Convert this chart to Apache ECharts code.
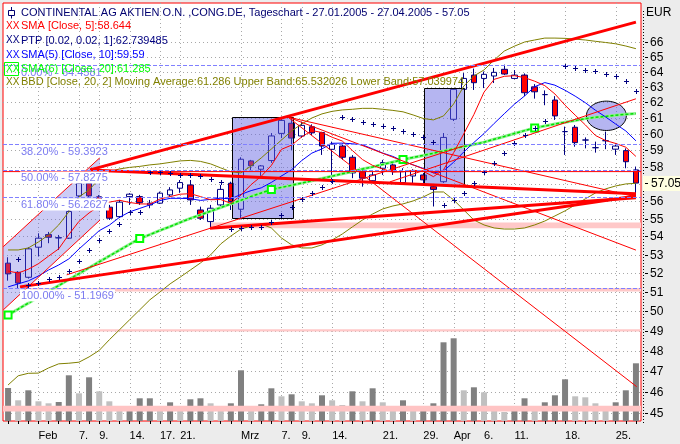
<!DOCTYPE html>
<html><head><meta charset="utf-8">
<script src="https://cdn.jsdelivr.net/npm/echarts@6.0.0/dist/echarts.min.js"></script>
<style>html,body{margin:0;padding:0;background:#ECECEC}#c{width:680px;height:444px}</style>
</head><body><div id="c"></div>
<script>
// ---------- data ----------
const dates = ['27.01.','28.01.','31.01.','01.02.','02.02.','03.02.','04.02.','07.02.','08.02.','09.02.','10.02.','11.02.','14.02.','15.02.','16.02.','17.02.','18.02.','21.02.','22.02.','23.02.','24.02.','25.02.','28.02.','01.03.','02.03.','03.03.','04.03.','07.03.','08.03.','09.03.','10.03.','11.03.','14.03.','15.03.','16.03.','17.03.','18.03.','21.03.','22.03.','23.03.','24.03.','29.03.','30.03.','31.03.','01.04.','04.04.','05.04.','06.04.','07.04.','08.04.','11.04.','12.04.','13.04.','14.04.','15.04.','18.04.','19.04.','20.04.','21.04.','22.04.','25.04.','26.04.','27.04.'];
const tickIdx  = [3,7,9,12,15,17,23,27,29,32,37,41,44,47,50,55,60];
const tickText = ['Feb','7.','9.','14.','17.','21.','Mrz','7.','9.','14.','21.','29.','Apr','6.','11.','18.','25.'];

const openP  = [52.53,52.04,51.77,53.40,54.10,53.91,53.90,56.30,57.04,56.25,55.65,55.11,56.26,56.26,55.78,55.88,56.36,56.75,56.94,55.49,54.83,55.78,57.04,55.53,58.37,57.87,58.39,60.05,60.68,59.89,60.46,60.10,59.07,59.27,58.59,57.73,57.19,57.93,58.13,57.08,57.47,57.53,56.84,57.13,60.93,62.84,63.77,63.55,63.71,64.15,63.55,63.77,63.00,62.50,62.15,60.16,60.43,59.64,59.17,59.60,59.08,58.99,57.83];
const closeP = [51.95,51.46,53.31,53.90,53.95,53.93,55.40,57.04,56.30,55.95,55.02,55.94,56.40,55.91,55.88,56.46,56.65,57.08,56.07,55.02,55.59,56.68,55.97,58.47,58.08,58.07,59.89,60.86,59.76,60.55,60.08,59.27,59.39,58.59,57.65,57.34,57.53,58.27,57.73,57.73,57.77,57.24,56.68,59.80,62.84,63.55,63.27,63.82,63.95,63.84,63.77,62.62,62.68,62.50,61.14,60.16,59.48,59.64,59.17,59.60,59.27,58.32,57.05];
const lowP   = [51.59,51.20,51.70,52.89,53.62,53.25,53.86,56.24,56.24,55.85,54.92,55.03,55.78,55.78,55.59,55.84,56.26,56.48,55.78,54.92,54.46,55.65,55.49,54.96,57.78,57.48,58.25,59.76,59.03,59.78,59.94,58.73,57.06,58.43,57.34,56.84,57.12,57.53,57.53,56.94,57.04,57.00,55.69,57.06,60.82,62.80,62.80,62.92,63.25,63.78,63.50,62.40,62.24,61.82,60.89,58.73,59.23,59.13,58.87,59.08,58.73,57.93,56.26];
const highP  = [52.85,52.10,53.40,54.17,54.25,54.08,55.59,57.53,57.47,56.35,55.78,56.07,56.46,56.36,56.07,56.55,56.81,57.23,57.23,55.68,55.78,56.94,57.13,58.59,58.43,58.12,60.07,61.09,60.99,60.78,60.61,60.15,59.54,59.43,58.72,57.83,57.71,58.43,58.23,57.93,57.87,57.65,57.00,60.07,62.90,63.90,64.20,64.00,64.24,64.46,64.10,63.88,63.18,62.77,62.40,60.47,60.57,59.80,59.54,60.16,59.44,59.13,58.03];
const volume = [330,207,307,197,177,190,457,277,437,297,197,130,150,227,227,107,187,130,217,227,177,120,177,507,120,167,327,247,267,197,177,257,207,160,297,197,327,187,137,207,107,117,177,787,827,307,337,287,147,90,137,227,147,187,257,417,247,237,177,147,187,307,577];

const sma5  = [52.1,52.0,52.2,52.5,52.91,53.31,54.10,54.84,55.32,55.72,55.94,56.05,55.92,55.84,55.83,56.12,56.26,56.40,56.43,56.26,56.08,56.09,55.87,56.35,56.96,57.45,58.10,59.07,59.33,59.83,60.23,60.10,59.81,59.58,59.00,58.45,58.10,57.88,57.70,57.72,57.81,57.75,57.43,57.84,58.87,60.02,61.23,62.66,63.49,63.69,63.73,63.60,63.37,63.08,62.54,61.82,61.19,60.58,59.92,59.61,59.43,59.20,58.64];
const sma10 = [51.26,51.42,51.58,51.84,52.16,52.43,52.76,53.30,53.80,54.32,54.63,55.07,55.38,55.58,55.78,56.03,56.16,56.16,56.14,56.04,56.10,56.17,56.13,56.39,56.61,56.77,57.09,57.47,57.84,58.39,58.84,59.10,59.44,59.45,59.41,59.34,59.10,58.84,58.64,58.36,58.13,57.92,57.65,57.77,58.29,58.91,59.49,60.04,60.67,61.28,61.88,62.41,63.01,63.28,63.11,62.78,62.40,61.98,61.50,61.08,60.63,60.20,59.59];
const sma20 = [49.80,50.10,50.41,50.72,51.03,51.33,51.65,51.96,52.28,52.60,52.92,53.24,53.56,53.88,54.10,54.33,54.55,54.78,55.01,55.21,55.42,55.63,55.84,56.05,56.27,56.47,56.67,56.80,56.92,57.05,57.19,57.32,57.46,57.60,57.73,57.88,58.01,58.16,58.30,58.45,58.58,58.70,58.83,58.97,59.10,59.24,59.37,59.51,59.69,59.86,60.04,60.22,60.39,60.51,60.63,60.74,60.85,60.97,61.05,61.11,61.18,61.24,61.29];
const bbUpper = [53.25,53.25,53.36,53.69,54.08,54.64,55.38,56.24,56.65,57.30,57.72,57.89,57.98,58.04,58.13,58.19,58.28,58.37,58.40,58.34,58.19,57.95,57.72,57.65,58.07,58.55,59.09,59.64,60.20,60.64,61.01,61.27,61.43,61.52,61.56,61.62,61.62,61.56,61.49,61.40,61.20,60.98,60.89,61.14,61.90,63.05,63.71,64.11,64.77,65.37,65.70,65.98,66.12,66.25,66.25,66.23,66.18,66.12,66.03,65.95,65.86,65.71,65.53];
const bbLower = [46.33,46.77,46.89,46.90,47.15,47.35,47.38,47.43,47.69,48.01,48.54,49.04,49.55,50.06,50.58,50.99,51.42,51.78,52.16,52.54,52.98,53.58,54.02,54.41,54.58,54.70,54.47,53.91,53.53,53.36,53.36,53.53,53.80,54.13,54.53,54.92,55.26,55.55,55.72,55.84,56.01,56.24,56.53,56.53,56.07,55.49,54.92,54.64,54.47,54.41,54.41,54.47,54.64,54.86,55.15,55.44,55.78,56.13,56.47,56.71,56.88,57.00,57.04];
const psar = [null,52.76,51.37,51.46,51.68,51.78,52.11,52.62,53.25,53.80,54.30,54.72,55.38,55.38,57.72,57.69,57.64,57.53,57.53,57.47,57.28,57.12,54.42,54.46,54.52,54.55,54.78,55.21,55.68,56.11,56.49,56.81,57.20,61.08,60.92,60.75,60.63,60.49,60.36,60.20,60.04,59.83,59.52,55.78,56.07,56.49,57.06,57.68,58.23,58.83,59.44,59.95,60.39,60.82,null,64.39,64.24,64.12,64.01,63.86,63.70,63.40,62.74];

const priceTicks = [66,65,64,63,62,61,60,59,58,56,55,54,53,52,51,50,49,48,47,46,45];
const gridPrices = [45,46,47,48,49,50,51,52,53,54,55,56,57,58,59,60,61,62,63,64,65,66];
const lastPrice = 57.05;
const fibLevels = [64.4581,59.3924,57.8275,56.2627,51.1969];
const fibText = ['0.00% - 64.4581','38.20% - 59.3923','50.00% - 57.8275','61.80% - 56.2627','100.00% - 51.1969'];

// drawing tools, anchored in [bar index, price]
const thickLines = [[[8.09,57.83],[62.0,67.35]],[[1.18,51.26],[62.0,56.30]],[[19.94,54.46],[62.0,56.19]],[[8.09,57.83],[62.0,56.42]]];
const thinLines = [[[-0.47,53.43],[9.08,58.57]],[[-0.47,50.06],[9.08,54.92]],[[-0.5,57.73],[62.5,57.73]],[[27.63,61.07],[62.07,46.25]],[[27.63,61.07],[62.0,56.25]],[[27.63,61.07],[62.0,53.24]],[[5.79,51.9],[45.0,59.28]],[[37.7,57.12],[62.0,62.23]]];
const pinkBands = [[19.94,62.5,54.46,54.78],[2.17,62.5,51.01,51.20],[2.07,62.5,48.95,49.07]];
const volBand = [-0.5,62.5,45.08,45.35];
const boxes = [[22.08,28.06,55.02,61.07],[41.09,45.01,56.91,62.90]];
const channel = [[-0.47,53.43],[9.08,58.57],[9.08,54.92],[-0.47,50.06]];
const ellipse = [59.08,60.23,62.08,1.97];

// ---------- helpers ----------
const FONT = '"Liberation Sans", Arial, sans-serif';
function X(api, idx){ const a = api.coord([0,50])[0], b = api.coord([1,50])[0]; return a + idx*(b-a); }
function Y(api, p){ return api.coord([0,p])[1]; }
function drawSeries(z, clip, fn){
  return {type:'custom', z:z, clip:clip, silent:true, data:[[0,50]], animation:false,
    renderItem:(params, api)=>({type:'group', children: fn(params, api)})};
}

const chart = echarts.init(document.getElementById('c'), null, {renderer:'canvas', width:680, height:444});

const option = {
  animation:false,
  backgroundColor:'#ECECEC',
  grid:{left:3, right:39, top:3, bottom:23, show:true, backgroundColor:'#FFFFFF', borderColor:'#FF0000', borderWidth:1},
  xAxis:{type:'category', data:dates, boundaryGap:true,
    axisLine:{show:false},
    axisTick:{show:true, alignWithLabel:true, interval:0, length:3, lineStyle:{color:'#000'}},
    axisLabel:{interval:(i)=>tickIdx.indexOf(i)>=0, formatter:(v,i)=>{const k=tickIdx.indexOf(i); return k>=0?tickText[k]:'';},
      align:'left', margin:9, color:'#000', fontSize:11, fontFamily:FONT},
    splitLine:{show:false}},
  yAxis:[
    {type:'log', logBase:10, min:44.64, max:68.69, position:'right', axisLine:{show:false}, axisTick:{show:false}, axisLabel:{show:false}, splitLine:{show:false}},
    {type:'value', min:0, max:4180, show:false, position:'right'}
  ],
  graphic:[],
  series:[]
};

// grid lines
option.series.push(drawSeries(1, true, (params, api)=>{
  const cs = params.coordSys, out=[];
  tickIdx.forEach(i=>{ const x=Math.round(X(api,i))+0.5;
    out.push({type:'line', shape:{x1:x,y1:cs.y,x2:x,y2:cs.y+cs.height}, style:{stroke:'#A8A8A8', lineWidth:1, lineDash:[1,3]}}); });
  gridPrices.forEach(p=>{ const y=Math.round(Y(api,p))+0.5;
    out.push({type:'line', shape:{x1:cs.x,y1:y,x2:cs.x+cs.width,y2:y}, style:{stroke:'#A8A8A8', lineWidth:1, lineDash:[1,3]}}); });
  return out;
}));
// pink bands
option.series.push(drawSeries(1, true, (params, api)=> pinkBands.map(b=>{
  const x1=X(api,b[0]), x2=X(api,b[1]), y1=Y(api,b[3]), y2=Y(api,b[2]);
  return {type:'rect', shape:{x:x1,y:y1,width:x2-x1,height:y2-y1}, style:{fill:'#FFC8C8'}};
})));
// volume
option.series.push({type:'bar', yAxisIndex:1, barWidth:6, z:2, silent:true,
  data: volume.map((v,i)=>({value:v, itemStyle:{color:(i===0||v>=volume[i-1])?'#808080':'#C0C0C0'}}))});
option.series.push(drawSeries(3, true, (params, api)=>{
  const x1=X(api,volBand[0]), x2=X(api,volBand[1]), y1=Y(api,volBand[3]), y2=Y(api,volBand[2]);
  return [{type:'rect', shape:{x:x1,y:y1,width:x2-x1,height:y2-y1}, style:{fill:'#FFC4C4', blend:'multiply'}}];
}));
// candles
option.series.push({type:'candlestick', z:4, barWidth:6, silent:true,
  data: dates.map((d,i)=>[openP[i],closeP[i],lowP[i],highP[i]]),
  itemStyle:{color:'#FFFFFF', color0:'#FF0000', borderColor:'#000080', borderColor0:'#000080', borderColorDoji:'#000080', borderWidth:1}});
// translucent drawing shapes
option.series.push(drawSeries(5, true, (params, api)=>{
  const out=[];
  out.push({type:'polygon', shape:{points:channel.map(p=>[X(api,p[0]),Y(api,p[1])])}, style:{fill:'rgba(100,100,225,0.33)'}});
  boxes.forEach(b=>{ const x1=X(api,b[0]), x2=X(api,b[1]), y1=Y(api,b[3]), y2=Y(api,b[2]);
    out.push({type:'rect', shape:{x:Math.round(x1)+0.5,y:Math.round(y1)+0.5,width:Math.round(x2-x1),height:Math.round(y2-y1)}, style:{fill:'rgba(100,100,225,0.48)', stroke:'#000', lineWidth:1}}); });
  const cx=X(api,ellipse[0]), yt=Y(api,ellipse[2]), yb=Y(api,ellipse[1]);
  const cy=(yt+yb)/2, ry=(yb-yt)/2, rx=X(api,ellipse[0]+ellipse[3])-cx, pts=[];
  for(let k=0;k<64;k++){ const a=k/64*Math.PI*2; pts.push([cx+rx*Math.cos(a), cy+ry*Math.sin(a)]); }
  out.push({type:'polygon', shape:{points:pts}, style:{fill:'rgba(100,100,225,0.48)', stroke:'#000', lineWidth:1}});
  return out;
}));
// indicator lines
const lineS = (data, color, width, extra)=>Object.assign({type:'line', data:data, z:6, silent:true, showSymbol:false, symbol:'none',
  lineStyle:{color:color, width:width}, itemStyle:{color:color}}, extra||{});
option.series.push(lineS(bbUpper,'#808000',1));
option.series.push(lineS(bbLower,'#808000',1));
option.series.push(lineS(sma20,'#90F090',3,{symbol:(v,p)=>p.dataIndex%13===0?'emptyRect':'none', symbolSize:7, showSymbol:true, showAllSymbol:true, itemStyle:{color:'#00FF00', borderWidth:1.5}}));
option.series.push(lineS(sma20,'#00E000',1.5,{lineStyle:{color:'#00E000', width:1.5, type:[3,2]}}));
option.series.push(lineS(sma10,'#0000FF',1));
option.series.push(lineS(sma5,'#FF0000',1));
// trend lines
option.series.push(drawSeries(7, true, (params, api)=>{
  const out=[];
  thinLines.forEach(l=>out.push({type:'line', shape:{x1:X(api,l[0][0]),y1:Y(api,l[0][1]),x2:X(api,l[1][0]),y2:Y(api,l[1][1])}, style:{stroke:'#FF0000', lineWidth:1}}));
  thickLines.forEach(l=>out.push({type:'line', shape:{x1:X(api,l[0][0]),y1:Y(api,l[0][1]),x2:X(api,l[1][0]),y2:Y(api,l[1][1])}, style:{stroke:'#FF0000', lineWidth:3}}));
  return out;
}));
// parabolic SAR as crisp navy crosses
option.series.push({type:'custom', z:8, silent:true, clip:true,
  data: psar.map((v,i)=>[i,v]).filter(d=>d[1]!==null),
  renderItem:(params, api)=>{
    const p = api.coord([api.value(0), api.value(1)]);
    const x = Math.round(p[0]), y = Math.round(p[1]);
    return {type:'group', children:[
      {type:'rect', shape:{x:x-2,y:y,width:5,height:1}, style:{fill:'#000080'}},
      {type:'rect', shape:{x:x,y:y-2,width:1,height:5}, style:{fill:'#000080'}}
    ]};
  }});
// fibonacci
option.series.push(drawSeries(9, true, (params, api)=>{
  const cs=params.coordSys, out=[];
  fibLevels.forEach((f,k)=>{ const y=Math.round(Y(api,f))+0.5;
    out.push({type:'line', shape:{x1:cs.x,y1:y,x2:cs.x+cs.width,y2:y}, style:{stroke:'#8080FF', lineWidth:1, lineDash:[4,2]}});
    out.push({type:'text', x:cs.x+17, y:y+1, style:{text:fibText[k], fill:'#7B7BF0', font:'11px '+FONT, align:'left', verticalAlign:'top', backgroundColor:'#FFFFFF', padding:[1,1,0,1]}});
  });
  return out;
}));
// right price scale
option.series.push(drawSeries(9, false, (params, api)=>{
  const cs=params.coordSys, R=cs.x+cs.width, out=[];
  out.push({type:'line', shape:{x1:R+2.5,y1:cs.y+8,x2:R+2.5,y2:cs.y+cs.height+3}, style:{stroke:'#000', lineWidth:1, lineDash:[1,2]}});
  priceTicks.forEach(p=>{ const y=Math.round(Y(api,p))+0.5;
    out.push({type:'line', shape:{x1:R+4,y1:y,x2:R+7,y2:y}, style:{stroke:'#000', lineWidth:1}});
    out.push({type:'text', x:R+9, y:y, style:{text:String(p), fill:'#000', font:'12px '+FONT, align:'left', verticalAlign:'middle'}});
  });
  const yl=Math.round(Y(api,lastPrice))+0.5;
  out.push({type:'rect', shape:{x:R+2,y:yl-7.5,width:40,height:15}, style:{fill:'#FFFFE1'}});
  out.push({type:'line', shape:{x1:R+4,y1:yl,x2:R+7,y2:yl}, style:{stroke:'#000', lineWidth:1}});
  out.push({type:'text', x:R+10, y:yl, style:{text:lastPrice.toFixed(2), fill:'#000', font:'12px '+FONT, align:'left', verticalAlign:'middle'}});
  out.push({type:'text', x:R+5, y:cs.y+10, style:{text:'EUR', fill:'#000', font:'12px '+FONT, align:'left', verticalAlign:'middle'}});
  return out;
}));

// legend block
const legend = [
  ['CONTINENTAL AG AKTIEN O.N. ,CONG.DE, Tageschart - 27.01.2005 - 27.04.2005 - 57.05','#000070',12.7],
  ['SMA [Close, 5]:58.644','#FF0000',26.3],
  ['PTP [0.02, 0.02, 1]:62.739485','#000080',40.5],
  ['SMA(5) [Close, 10]:59.59','#0000FF',54.8],
  ['SMA(6) [Close, 20]:61.285','#00FF00',68.8],
  ['BBD [Close, 20, 2] Moving Average:61.286 Upper Band:65.532026 Lower Band:57.039974','#808000',82]
];
legend.forEach((l,k)=>{
  option.graphic.push({type:'text', z:100, x:21, y:l[2], style:{text:l[0], fill:l[1], font:'11px '+FONT, verticalAlign:'middle', textVerticalAlign:'middle'}});
  if(k>0) option.graphic.push({type:'text', z:100, x:6, y:l[2], style:{text:'XX', fill:l[1], font:'10px "Liberation Sans Narrow", '+FONT, verticalAlign:'middle', textVerticalAlign:'middle'}});
});
option.graphic.push({type:'rect', z:100, shape:{x:4.5,y:62.5,width:14,height:13}, style:{fill:'none', stroke:'#00FF00', lineWidth:1}});
option.graphic.push({type:'line', z:100, shape:{x1:11.5,y1:7,x2:11.5,y2:18.5}, style:{stroke:'#000070', lineWidth:1}});
option.graphic.push({type:'rect', z:101, shape:{x:8.5,y:10.5,width:6,height:5}, style:{fill:'#FFFFFF', stroke:'#000070', lineWidth:1}});

chart.setOption(option);
</script>
</body></html>
